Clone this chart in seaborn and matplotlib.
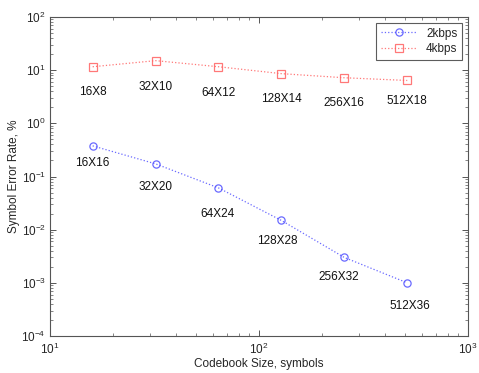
import matplotlib
matplotlib.use('Agg')
import matplotlib.pyplot as plt
import seaborn as sns
import pandas as pd
import numpy as np

# Data
codebook_size = [16, 32, 64, 128, 256, 512]
ser_2kbps = [0.377, 0.173, 0.061, 0.0149, 0.0030, 0.0010]
ser_4kbps = [11.6, 15.1, 11.6, 8.6, 7.2, 6.4]
labels_2kbps = ['16X16', '32X20', '64X24', '128X28', '256X32', '512X36']
labels_4kbps = ['16X8', '32X10', '64X12', '128X14', '256X16', '512X18']

# label placement below each marker (offset points)
dy_2kbps = [-12, -17, -19, -15, -14, -17]
dy_4kbps = [-18, -19, -19, -18, -18, -15]
dx_2kbps = [0, 0, -1, -3, -4, 2]

df = pd.DataFrame({
    'size': codebook_size * 2,
    'ser': ser_2kbps + ser_4kbps,
    'rate': ['2kbps'] * 6 + ['4kbps'] * 6,
})

sns.set_style('ticks')
plt.rcParams['font.family'] = ['Liberation Sans', 'DejaVu Sans']
plt.rcParams['mathtext.fontset'] = 'custom'
plt.rcParams['mathtext.rm'] = 'Liberation Sans'

fig = plt.figure(figsize=(4.79, 3.73), dpi=100)
ax = fig.add_axes([50 / 479, 1 - 336 / 373, 418 / 479, 319 / 373])

colors = {'2kbps': '#5050ff', '4kbps': '#ff6060'}
markers = {'2kbps': 'o', '4kbps': 's'}
for rate, g in df.groupby('rate'):
    ax.plot(g['size'], g['ser'], linestyle=':', linewidth=0.9,
            color=colors[rate], alpha=0.85, marker=markers[rate],
            markersize=5.2, markerfacecolor='none', markeredgewidth=0.9,
            label=rate)

ax.set_xscale('log')
ax.set_yscale('log')
ax.set_xlim(10, 1000)
ax.set_ylim(1e-4, 1e2)

for x, y, t, dy, dx in zip(codebook_size, ser_2kbps, labels_2kbps, dy_2kbps, dx_2kbps):
    ax.annotate(t, (x, y), xytext=(dx, dy), textcoords='offset points',
                ha='center', va='center', fontsize=8.5, color='#111111')
for x, y, t, dy in zip(codebook_size, ser_4kbps, labels_4kbps, dy_4kbps):
    ax.annotate(t, (x, y), xytext=(0, dy), textcoords='offset points',
                ha='center', va='center', fontsize=8.5, color='#111111')

ax.xaxis.set_minor_locator(matplotlib.ticker.LogLocator(base=10, subs=np.arange(2, 10), numticks=20))
ax.yaxis.set_major_locator(matplotlib.ticker.LogLocator(base=10, numticks=10))
ax.yaxis.set_minor_locator(matplotlib.ticker.LogLocator(base=10, subs=np.arange(2, 10), numticks=20))
ax.xaxis.set_minor_formatter(matplotlib.ticker.NullFormatter())
ax.yaxis.set_minor_formatter(matplotlib.ticker.NullFormatter())
ax.tick_params(which='both', direction='in', top=True, right=True, color='#555555')
ax.tick_params(which='major', length=4, width=0.7, labelsize=8.5)
ax.tick_params(which='minor', length=2, width=0.5)
ax.tick_params(axis='x', pad=4)
ax.tick_params(axis='y', pad=3)
for s in ax.spines.values():
    s.set_color('#555555')
    s.set_linewidth(0.8)

ax.set_xlabel('Codebook Size, symbols', fontsize=8.5, labelpad=1)
ax.set_ylabel('Symbol Error Rate, %', fontsize=8.5, labelpad=1)

leg = ax.legend(loc='upper right', fontsize=8.5, frameon=True, fancybox=False,
                edgecolor='#333333', handlelength=3, borderpad=0.4,
                labelspacing=0.3, borderaxespad=0.5)
leg.get_frame().set_linewidth(0.8)

fig.savefig('out.png', dpi=100)
